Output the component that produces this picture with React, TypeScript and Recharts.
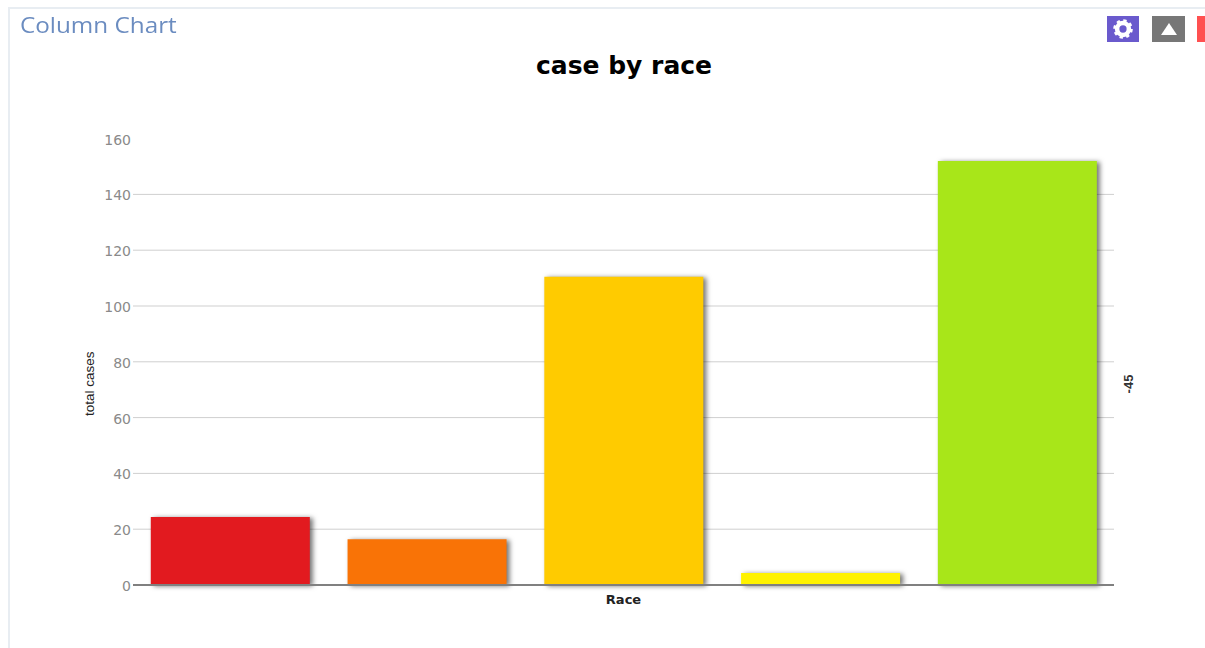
import React from "react";
import { BarChart, Bar, XAxis, YAxis, CartesianGrid, Label, Rectangle } from "recharts";

const categories = ["A", "B", "C", "D", "E"];
const cases = [24.4, 16.4, 110.5, 4.3, 152];
const colors = ["#e21a1f", "#f97306", "#ffcb00", "#fff200", "#a8e619"];
const ticks = [0, 20, 40, 60, 80, 100, 120, 140, 160];
const gridTicks = [20, 40, 60, 80, 100, 120, 140];
const data = categories.map((race, i) => ({ race, cases: cases[i], color: colors[i] }));

const abs = (o: React.CSSProperties): React.CSSProperties => ({ position: "absolute", whiteSpace: "nowrap", ...o });

const ShadowBar = (p: any) => (
  <Rectangle
    x={p.x}
    y={p.y}
    width={p.width}
    height={p.height}
    fill={p.payload.color}
    style={{ filter: "drop-shadow(3px 1px 2.5px rgba(0,0,0,0.55))" }}
  />
);

export default function App() {
  return (
    <div style={{ position: "absolute", left: 0, top: 0, width: 1205, height: 648, overflow: "hidden", background: "#fff" }}>
      <div style={abs({ left: 8, top: 7, width: 1200, height: 650, borderLeft: "2px solid #e8edf2", borderTop: "2px solid #e8edf2", boxSizing: "border-box" })} />
      <div style={abs({ left: 20, top: 11, fontFamily: "'Open Sans'", fontSize: 21, color: "#6b8cc0", lineHeight: "28px", transform: "scaleX(1.155)", transformOrigin: "left center" })}>Column Chart</div>
      <div style={abs({ left: 0, width: 1248, top: 50, textAlign: "center", fontFamily: "'DejaVu Sans'", fontWeight: 700, fontSize: 25, color: "#000", lineHeight: "32px" })}>case by race</div>

      <div style={abs({ left: 1107, top: 16, width: 32, height: 26, background: "#6a5acd", display: "flex", alignItems: "center", justifyContent: "center" })}>
        <svg width="20" height="20" viewBox="0 0 22 22">
          <circle cx="11" cy="11" r="6.5" fill="none" stroke="#fff" strokeWidth="5" />
          <circle cx="11" cy="11" r="9" fill="none" stroke="#fff" strokeWidth="3.5" strokeDasharray="3.5 3.57" />
        </svg>
      </div>
      <div style={abs({ left: 1152, top: 16, width: 33, height: 26, background: "#777", display: "flex", alignItems: "center", justifyContent: "center" })}>
        <svg width="16" height="12" viewBox="0 0 16 12"><polygon points="8,0 16,12 0,12" fill="#fff" /></svg>
      </div>
      <div style={abs({ left: 1197, top: 16, width: 8, height: 26, background: "#ff5050" })} />

      <div style={abs({ left: 1128, top: 384, width: 0, height: 0, fontFamily: "'Liberation Sans'", fontSize: 13, fontWeight: 700, color: "#333" })}>
        <span style={{ display: "block", transform: "translate(-50%,-50%) rotate(-90deg)", width: "max-content" }}>-45</span>
      </div>

      <div style={abs({ left: 0, top: 0 })}>
        <BarChart
          width={1205}
          height={648}
          data={data}
          margin={{ top: 138.6, right: 91, bottom: 43, left: 83 }}
          barCategoryGap={18.9}
        >
          <CartesianGrid vertical={false} horizontalValues={gridTicks} stroke="#cfcfcf" strokeWidth={1} />
          <XAxis
            dataKey="race"
            height={20}
            tick={false}
            tickLine={false}
            padding={{ left: -1.1, right: -1.7 }}
            axisLine={{ stroke: "#808080", strokeWidth: 2 }}
          >
            <Label value="Race" position="insideTop" offset={10} style={{ fontFamily: "'DejaVu Sans'", fontSize: 13, fontWeight: 700, fill: "#222" }} />
          </XAxis>
          <YAxis
            width={50}
            domain={[0, 160]}
            ticks={ticks}
            interval={0}
            tickLine={false}
            axisLine={false}
            tickMargin={2}
            tick={{ fontFamily: "'DejaVu Sans'", fontSize: 14, fill: "#8a8a8a", dx: 6, dy: 1 }}
          >
            <Label
              value="total cases"
              angle={-90}
              position="center"
              dx={-19}
              dy={22}
              style={{ fontFamily: "'Liberation Sans'", fontSize: 13.5, fill: "#222" }}
            />
          </YAxis>
          <Bar dataKey="cases" isAnimationActive={false} shape={ShadowBar} />
        </BarChart>
      </div>
    </div>
  );
}
